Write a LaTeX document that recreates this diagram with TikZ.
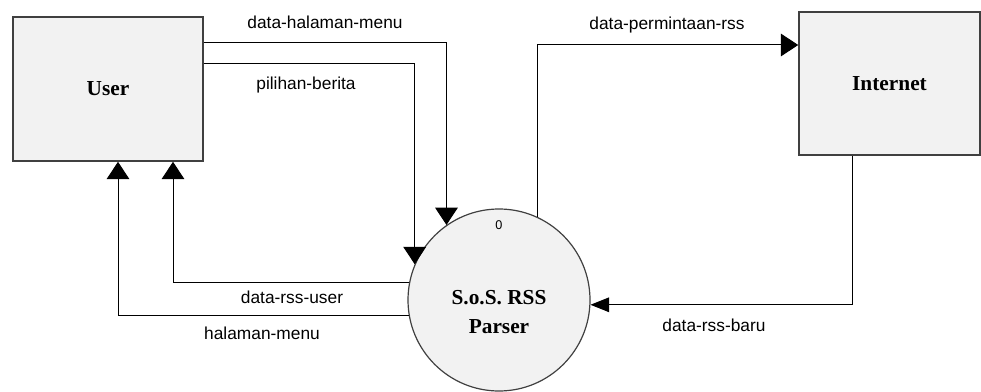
\documentclass[tikz,border=0pt]{standalone}
\usepackage{fontspec}
\setmainfont{Liberation Serif}
\setsansfont{Liberation Sans}
\usetikzlibrary{arrows.meta}

\definecolor{boxfill}{HTML}{F2F2F2}
\definecolor{boxline}{HTML}{404040}

\tikzset{
  entity/.style={draw=boxline, line width=1.2pt, fill=boxfill,
    font=\fontsize{16}{18}\selectfont\bfseries},
  process/.style={circle, draw=boxline, line width=0.9pt, fill=boxfill,
    minimum size=136.5pt, inner sep=0pt},
  flow/.style={draw=black, line width=0.75pt, -{Triangle[length=13pt,width=17pt]}},
  flowlabel/.style={font=\sffamily\fontsize{13}{15}\selectfont, inner sep=0pt},
}

\begin{document}
\begin{tikzpicture}[x=0.75pt,y=-0.75pt]
    \useasboundingbox (0,0) rectangle (981,392);

    % external entities and the process
    \node[entity, minimum width=142.5pt, minimum height=108pt] (user) at (108,89) {User};
    \node[entity, minimum width=135.75pt, minimum height=107.25pt] (internet) at (889.5,83.5) {Internet};
    \node[process] (sos) at (499,300) {};
    \node[align=center, inner sep=0pt, font=\fontsize{16}{21.75}\selectfont\bfseries]
        (sostitle) at ([yshift=-9pt]sos.center) {S.o.S. RSS\\Parser};
    \node[inner sep=0pt, font=\sffamily\fontsize{9.5}{10}\selectfont] (sosnum) at (499,225) {0};

    % data flows
    \draw[flow] (user.east |- 0,43) -| (sos.125);
    \draw[flow] (user.east |- 0,64) -| (sos.157);
    \draw[flow] (sos.169) -| (user.south -| 173,0);
    \draw[flow] (sos.190) -| (user.south -| 118,0);
    \draw[flow] (sos.65) |- (internet.west |- 0,45);
    \draw[flow, -{Triangle[length=14pt,width=11pt]}] (internet.south -| 852,0) |- (sos.357);

    \node[flowlabel] (lblmenu) at (325,22) {data-halaman-menu};
    \node[flowlabel] (lblpilih) at (306,85) {pilihan-berita};
    \node[flowlabel] (lblminta) at (667,25) {data-permintaan-rss};
    \node[flowlabel] (lblrssuser) at (292,297) {data-rss-user};
    \node[flowlabel] (lblhalaman) at (262,333) {halaman-menu};
    \node[flowlabel] (lblbaru) at (714,325) {data-rss-baru};

\end{tikzpicture}
\end{document}
